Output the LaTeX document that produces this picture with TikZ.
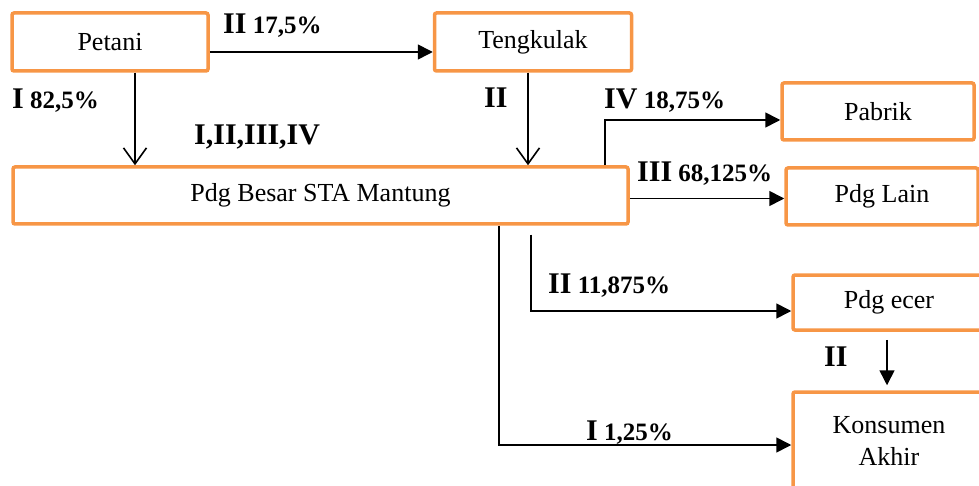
\documentclass[tikz,border=0pt]{standalone}
\usepackage{fontspec}
\setmainfont{Liberation Serif}
\usepackage{tikz}
\usetikzlibrary{arrows.meta, positioning}
\usepackage{xcolor}
\definecolor{boxorange}{RGB}{247,150,70}
\newcommand{\romsize}{\fontsize{30}{34}\selectfont}
\newcommand{\numsize}{\fontsize{25}{30}\selectfont}
\tikzset{orangebox/.style={rectangle, draw=boxorange, line width=3.5pt, rounded corners=2pt, fill=white, inner sep=0pt, font=\fontsize{26}{32}\selectfont}}

\begin{document}
\begin{tikzpicture}[
        line join=miter,
        flowline/.style={draw=black, line width=1.6pt},
        openarrow/.style={flowline, -{Straight Barb[length=16pt, width=23pt, line width=1.6pt]}},
        fullarrow/.style={flowline, -{Triangle[length=15pt, width=15pt]}},
        flowlabel/.style={anchor=base west, inner sep=0pt, font=\numsize\bfseries}
    ]
        \useasboundingbox (0pt, 0pt) rectangle (979pt, -486pt);
        % Boxes
        \node[orangebox, minimum width=196pt, minimum height=58pt] (petani) at (110pt, -42pt) {Petani};
        \node[orangebox, minimum width=197pt, minimum height=58pt] (tengkulak) at (533pt, -42pt) {Tengkulak};
        \node[orangebox, minimum width=615pt, minimum height=57pt] (besar) at (320.5pt, -195.5pt) {Pdg Besar STA Mantung};
        \node[orangebox, minimum width=192pt, minimum height=57pt] (pabrik) at (878pt, -111.5pt) {Pabrik};
        \node[orangebox, minimum width=192pt, minimum height=57pt] (lain) at (882pt, -196.5pt) {Pdg Lain};
        \node[orangebox, minimum width=192pt, minimum height=55pt] (ecer) at (889pt, -302.5pt) {Pdg ecer};
        \node[orangebox, minimum width=192pt, minimum height=98pt, align=center] (konsumen) at (889pt, -441pt) {Konsumen\\Akhir};
        % Arrows
        \draw[fullarrow] ([yshift=-10pt]petani.east) -- ([yshift=-10pt]petani.east -| tengkulak.west);
        \draw[openarrow] ([xshift=25pt]petani.south) -- ([xshift=25pt]petani.south |- besar.north);
        \draw[openarrow] ([xshift=-5pt]tengkulak.south) -- ([xshift=-5pt]tengkulak.south |- besar.north);
        \draw[fullarrow] ([xshift=-25pt]besar.north east) |- ([yshift=-8.5pt]pabrik.west);
        \draw[fullarrow] ([yshift=-3pt]besar.east) -- ([yshift=-3pt]besar.east -| lain.west);
        \coordinate (ecerstart) at ([xshift=-99pt, yshift=-9pt]besar.south east);
        \draw[fullarrow] (ecerstart) |- ([yshift=-8.5pt]ecer.west);
        \draw[fullarrow] ([xshift=-131pt]besar.south east) |- ([yshift=-4pt]konsumen.west);
        \draw[fullarrow] ([xshift=-2pt, yshift=-8pt]ecer.south) -- ([xshift=-2pt, yshift=5pt]konsumen.north);
        % Labels
        \node[flowlabel] (lbltengkulak) at (223pt, -34pt) {{\romsize II} 17,5\%};
        \node[flowlabel] (lblpetani) at (12pt, -109pt) {{\romsize I} 82,5\%};
        \node[flowlabel] (lblall) at (194pt, -145pt) {\romsize I,II,III,IV};
        \node[flowlabel] (lblbesar) at (484pt, -108pt) {\romsize II};
        \node[flowlabel] (lblpabrik) at (604pt, -109pt) {{\romsize IV} 18,75\%};
        \node[flowlabel] (lbllain) at (637pt, -182pt) {{\romsize III} 68,125\%};
        \node[flowlabel] (lblecer) at (548pt, -293pt) {{\romsize II} 11,875\%};
        \node[flowlabel] (lblakhir) at (824pt, -366pt) {\romsize II};
        \node[flowlabel] (lblkonsumen) at (586pt, -440pt) {{\romsize I} 1,25\%};
    \end{tikzpicture}
\end{document}
